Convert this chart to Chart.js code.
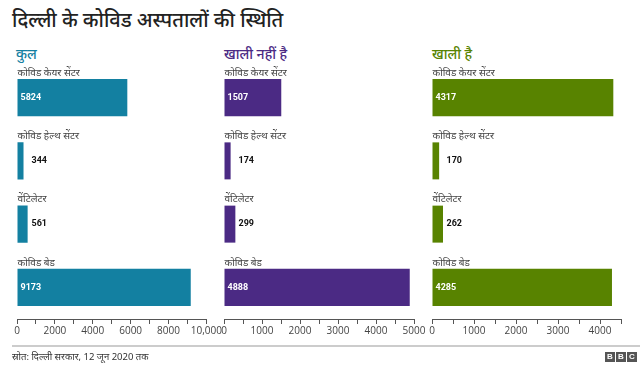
<!DOCTYPE html>
<html>
<head>
<meta charset="utf-8">
<script src="https://cdn.jsdelivr.net/npm/chart.js@4/dist/chart.umd.min.js"></script>
<style>
  body { margin:0; width:640px; height:369px; background:#fff; position:relative; overflow:hidden;
         font-family:"Noto Sans", "Noto Sans Devanagari", sans-serif; }
  .abs { position:absolute; white-space:nowrap; }
  canvas { position:absolute; top:0; }
  #title { left:12px; top:6px; font-size:20px; font-weight:500; color:#222; }
  .sub { top:44px; font-size:14px; font-weight:500; }
  #sep { left:12px; top:345px; width:628px; height:2px; background:#ccc; }
  #src { left:12px; top:350px; font-size:9.5px; color:#333; }
  #bbc { left:605px; top:352px; display:flex; gap:1px; }
  #bbc span { width:10px; height:10px; background:#555; color:#fff; font:bold 8px Arial, sans-serif;
              line-height:10px; text-align:center; }
</style>
</head>
<body>
<div class="abs" id="title">दिल्ली के कोविड अस्पतालों की स्थिति</div>
<div class="abs sub" style="left:16px;color:#1380A1">कुल</div>
<div class="abs sub" style="left:224px;color:#4B2A84">खाली नहीं है</div>
<div class="abs sub" style="left:432px;color:#588300">खाली है</div>

<canvas id="c1" width="216" height="369" style="left:7px"></canvas>
<canvas id="c2" width="215" height="369" style="left:214px"></canvas>
<canvas id="c3" width="214" height="369" style="left:422px"></canvas>

<div class="abs" id="sep"></div>
<div class="abs" id="src">स्रोत: दिल्ली सरकार, 12 जून 2020 तक</div>
<div class="abs" id="bbc"><span>B</span><span>B</span><span>C</span></div>

<script>
// data
var categories = ["कोविड केयर सेंटर", "कोविड हेल्थ सेंटर", "वेंटिलेटर", "कोविड बेड"];
var kul = [5824, 344, 561, 9173];
var bhare = [1507, 174, 299, 4888];     // खाली नहीं है
var khali = [4317, 170, 262, 4285];     // खाली है

var numFont = '"Liberation Sans Narrow", "Roboto", sans-serif';

// category names above bars + value labels
var barText = {
  id: "barText",
  afterDatasetsDraw: function(chart) {
    var ctx = chart.ctx;
    var meta = chart.getDatasetMeta(0);
    var vals = chart.data.datasets[0].data;
    ctx.save();
    meta.data.forEach(function(bar, i) {
      var top = bar.y - bar.height / 2;
      ctx.font = '10px "Noto Sans", "Noto Sans Devanagari", sans-serif';
      ctx.fillStyle = "#444";
      ctx.textAlign = "left";
      ctx.textBaseline = "bottom";
      ctx.fillText(chart.data.labels[i], bar.base, top - 1);

      ctx.font = "bold 9px " + numFont;
      ctx.textBaseline = "middle";
      if (bar.x - bar.base > 30) {
        ctx.fillStyle = "#fff";
        ctx.fillText(vals[i], bar.base + 3, bar.y);
      } else {
        ctx.fillStyle = "#111";
        ctx.fillText(vals[i], bar.base + 14, bar.y);
      }
    });
    ctx.restore();
  }
};

function panel(id, values, colour, max, step, labelEvery, padR) {
  new Chart(document.getElementById(id), {
    type: "bar",
    data: {
      labels: categories,
      datasets: [{
        data: values,
        backgroundColor: colour,
        barPercentage: 0.585,
        categoryPercentage: 1
      }]
    },
    options: {
      indexAxis: "y",
      responsive: false,
      animation: false,
      layout: { padding: { left: 10, right: padR, top: 66, bottom: 30 } },
      plugins: { legend: { display: false }, tooltip: { enabled: false } },
      scales: {
        y: { display: false },
        x: {
          min: 0,
          max: max,
          afterFit: function(scale) { scale.height = 20; },
          border: { display: true, color: "#555", width: 1 },
          grid: { drawOnChartArea: false, tickLength: 5, color: "#555" },
          ticks: {
            stepSize: step,
            padding: 1,
            autoSkip: false,
            maxRotation: 0,
            color: "#444",
            font: { size: 10, family: '"Open Sans", sans-serif' },
            callback: function(v) {
              if (v % labelEvery !== 0) return "";
              return v >= 10000 ? v.toLocaleString("en-US") : String(v);
            }
          }
        }
      }
    },
    plugins: [barText]
  });
}

panel("c1", kul, "#1380A1", 10000, 1000, 2000, 15);
panel("c2", bhare, "#4B2A84", 5000, 500, 1000, 15);
panel("c3", khali, "#588300", 4500, 500, 1000, 15);
</script>
</body>
</html>
